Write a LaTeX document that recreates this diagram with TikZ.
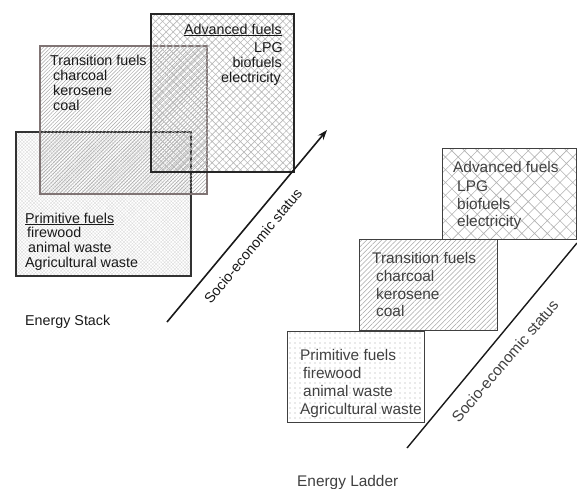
\documentclass[tikz,border=0pt]{standalone}
\usepackage{fontspec}
\setmainfont{Liberation Sans}
\usetikzlibrary{patterns.meta,arrows.meta}
\definecolor{tborder}{RGB}{128,116,116}
\begin{document}
\begin{tikzpicture}[x=1pt,y=-1pt,
  stxt/.style={font=\fontsize{14.3}{15}\selectfont, inner sep=0pt, text=black!90},
  ltxt/.style={font=\fontsize{15.4}{18}\selectfont, inner sep=0pt, text=black!75},
  boxbase/.style={draw, inner sep=0pt, anchor=north west},
  advpat/.style={pattern={Hatch[angle=45,distance=5pt,line width=0.6pt]}, pattern color=black!28},
  trapat/.style={pattern={Lines[angle=45,distance=2.6pt,line width=0.5pt]}, pattern color=black!35},
  pripat/.style={pattern={Hatch[angle=45,distance=2.4pt,line width=0.3pt]}, pattern color=black!15},
  ladvpat/.style={pattern={Hatch[angle=45,distance=9pt,line width=0.6pt]}, pattern color=black!30},
  ltrapat/.style={pattern={Lines[angle=45,distance=3.5pt,line width=0.5pt]}, pattern color=black!35},
  lpripat/.style={pattern={Dots[distance=5pt,radius=0.55pt]}, pattern color=black!35},
  axisline/.style={line width=1.6pt, draw=black!90}
]
\useasboundingbox (0,0) rectangle (577,488);

% ---------------- Energy Stack ----------------
\node[boxbase, pripat, draw=black!80, line width=1.6pt, minimum width=175pt, minimum height=144pt] (sP) at (15,131) {};
\node[boxbase, trapat, draw=tborder, line width=1.6pt, minimum width=167pt, minimum height=148pt] (sT) at (39,45) {};
\node[boxbase, advpat, draw=black!85, line width=1.8pt, minimum width=143pt, minimum height=158pt] (sA) at (150,13) {};

\node[stxt, anchor=base east] (sAt) at (282,34) {\underline{Advanced fuels}};
\node[stxt, anchor=base east] (sA1) at (283,52) {LPG};
\node[stxt, anchor=base east] (sA2) at (282,67) {biofuels};
\node[stxt, anchor=base east] (sA3) at (281,82) {electricity};

\node[stxt, anchor=base west] (sTt) at (50,65) {Transition fuels};
\node[stxt, anchor=base west] (sT1) at (53,80) {charcoal};
\node[stxt, anchor=base west] (sT2) at (53,95) {kerosene};
\node[stxt, anchor=base west] (sT3) at (53,110) {coal};

\node[stxt, anchor=base west] (sPt) at (25,223) {\underline{Primitive fuels}};
\node[stxt, anchor=base west] (sP1) at (27,237) {firewood};
\node[stxt, anchor=base west] (sP2) at (28,252) {animal waste};
\node[stxt, anchor=base west] (sP3) at (25,267) {Agricultural waste};

\node[stxt, anchor=base west] (sLabel) at (25,325) {Energy Stack};

\coordinate (sArrS) at (167,322);
\coordinate (sArrE) at (327,130);
\draw[axisline, -{Stealth[length=10pt,width=7pt]}] (sArrS) -- (sArrE);
\node[stxt, rotate=50.2] (sSoc) at (253,246) {Socio-economic status};

% ---------------- Energy Ladder ----------------
\node[boxbase, ladvpat, draw=black!75, line width=1.4pt, minimum width=134pt, minimum height=91pt] (lA) at (442,148) {};
\node[boxbase, ltrapat, draw=black!75, line width=1.4pt, minimum width=138pt, minimum height=91pt] (lT) at (359,239) {};
\node[boxbase, lpripat, draw=black!75, line width=1.4pt, minimum width=137pt, minimum height=91pt] (lP) at (287,331) {};

\node[ltxt, anchor=base west] (lAt) at (453,172) {Advanced fuels};
\node[ltxt, anchor=base west] (lA1) at (457,191) {LPG};
\node[ltxt, anchor=base west] (lA2) at (457,209) {biofuels};
\node[ltxt, anchor=base west] (lA3) at (457,226) {electricity};

\node[ltxt, anchor=base west] (lTt) at (372,263) {Transition fuels};
\node[ltxt, anchor=base west] (lT1) at (376,281) {charcoal};
\node[ltxt, anchor=base west] (lT2) at (376,299) {kerosene};
\node[ltxt, anchor=base west] (lT3) at (376,316) {coal};

\node[ltxt, anchor=base west] (lPt) at (300,360) {Primitive fuels};
\node[ltxt, anchor=base west] (lP1) at (303,378) {firewood};
\node[ltxt, anchor=base west] (lP2) at (303,396) {animal waste};
\node[ltxt, anchor=base west] (lP3) at (300,414) {Agricultural waste};

\coordinate (lLnS) at (407,448);
\coordinate (lLnE) at (577,243);
\draw[axisline, line width=1.4pt] (lLnS) -- (lLnE);
\node[ltxt, rotate=49.5] (lSoc) at (505,361) {Socio-economic status};

\node[ltxt, anchor=base west] (lLabel) at (297,486) {Energy Ladder};
\end{tikzpicture}
\end{document}
